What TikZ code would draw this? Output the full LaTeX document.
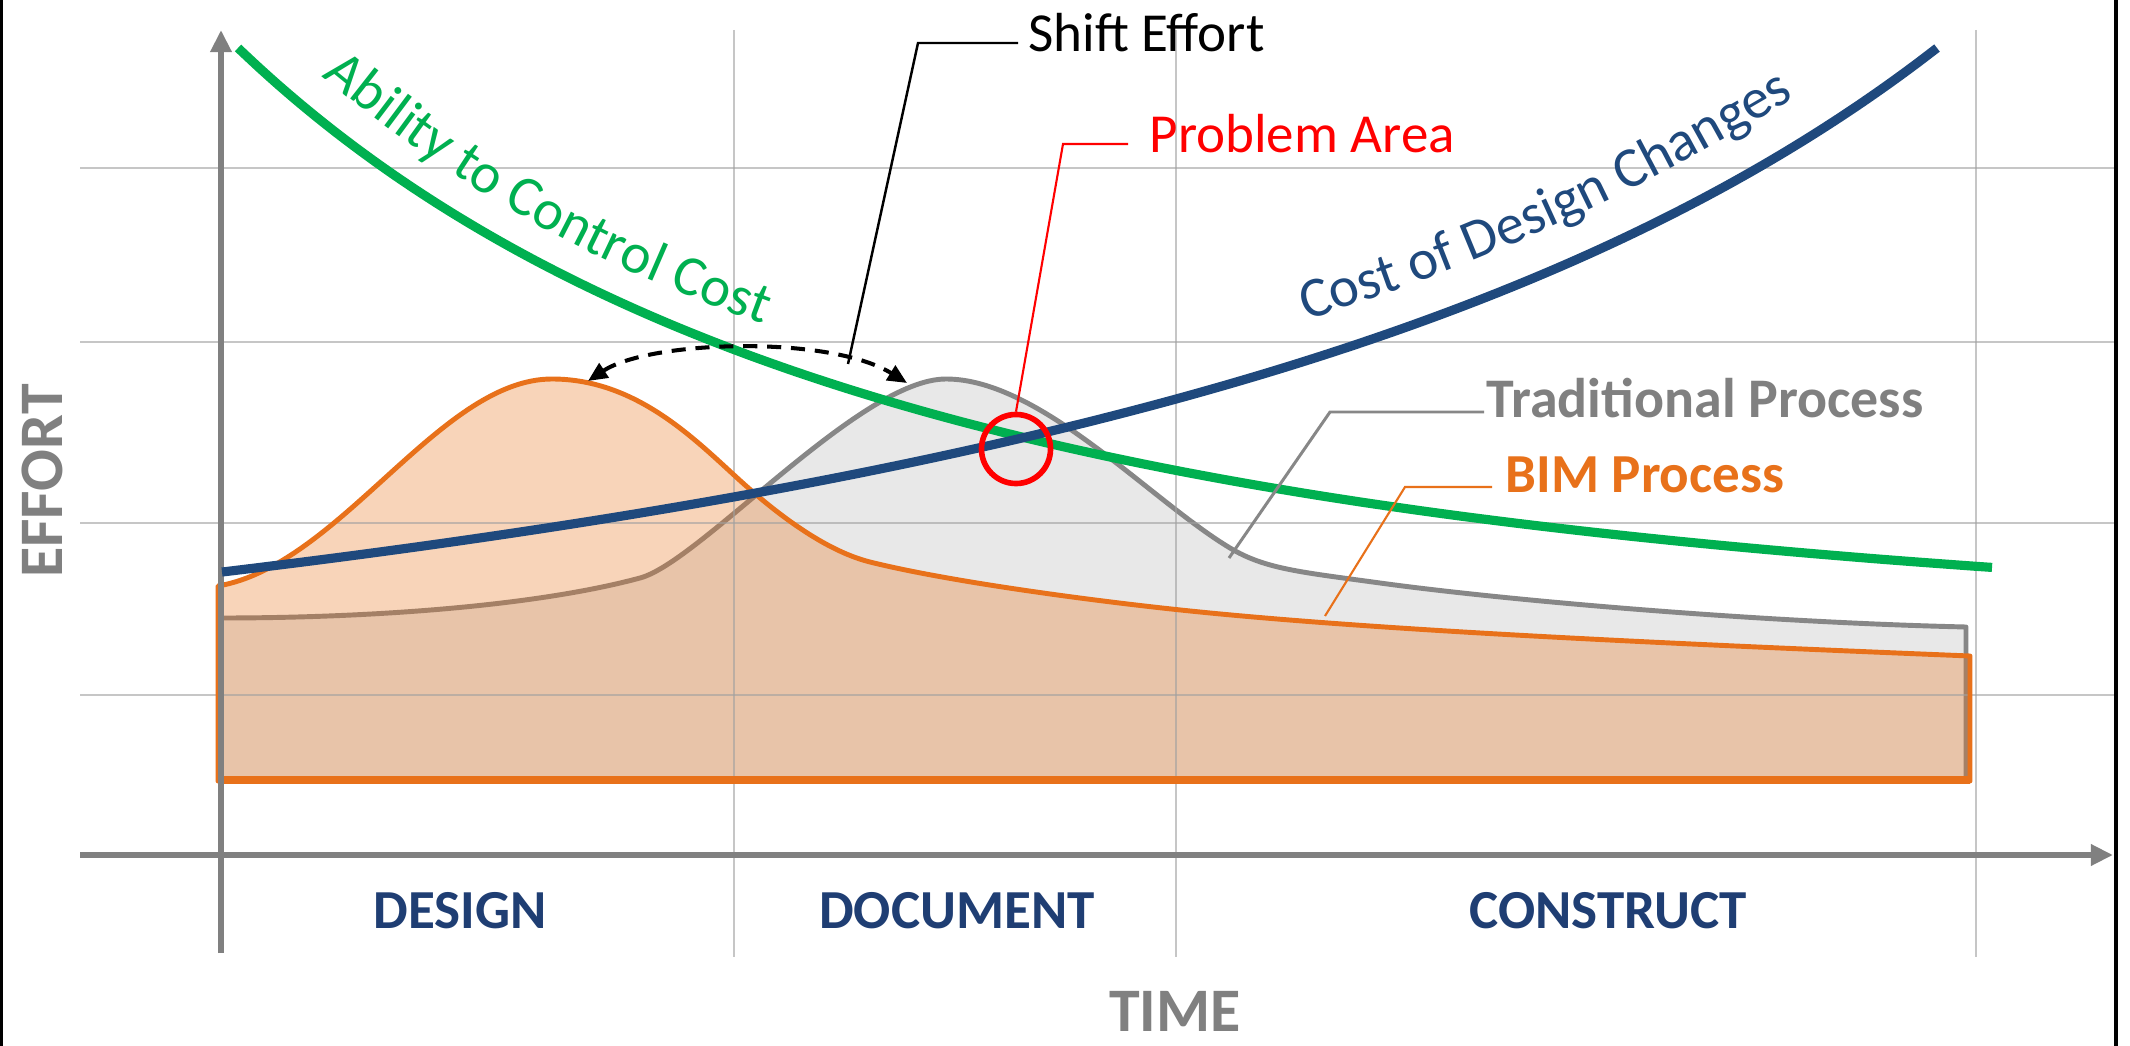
\documentclass[tikz,border=0pt]{standalone}
\usepackage{fontspec}
\setmainfont{Carlito}
\usetikzlibrary{arrows.meta,decorations.text}
\definecolor{cgreen}{RGB}{0,176,80}
\definecolor{cblue}{RGB}{31,73,125}
\definecolor{cnavy}{RGB}{31,62,115}
\definecolor{corange}{RGB}{232,113,26}
\definecolor{cgray}{RGB}{128,128,128}
\definecolor{ctrad}{RGB}{135,135,135}
\definecolor{ctradfill}{RGB}{232,232,232}
\definecolor{cgrid}{RGB}{160,160,160}
\definecolor{cred}{RGB}{255,0,0}
\newcommand\lblfont{\fontsize{15.65pt}{18pt}\selectfont}
\newcommand\pathfont{\fontsize{16.2pt}{19pt}\selectfont}
\newcommand\bigfont{\fontsize{17.6pt}{20pt}\selectfont\bfseries}
\begin{document}
\begin{tikzpicture}[x=0.01cm,y=-0.01cm,
  gridline/.style={draw=cgrid,line width=0.65pt,opacity=0.6},
  axisline/.style={draw=cgray,line width=1.7pt,-{Triangle[length=6.3pt,width=5.8pt]}},
  curve/.style={line width=2.6pt},
  lbl/.style={inner sep=0pt,font=\lblfont},
  phase/.style={inner sep=0pt,anchor=base,font=\lblfont\bfseries,text=cnavy},
  leader/.style={line width=0.7pt},
  border/.style={draw=black,line width=0.9pt}]
\useasboundingbox (0,0) rectangle (2130,1046);
\fill[white] (0,0) rectangle (2130,1046);
% Traditional process area
\path[fill=ctradfill,draw=ctrad,line width=1.4pt,line join=round]
  (221,781) -- (221,618)
  .. controls (380,618) and (540,605) .. (640,578)
  .. controls (700,562) and (860,379) .. (946,379)
  .. controls (1040,379) and (1150,500) .. (1230,548)
  .. controls (1265,569) and (1300,572) .. (1380,583)
  .. controls (1500,599.5) and (1750,622) .. (1966,627)
  -- (1966,781) -- cycle;
% BIM area fill
\path[fill=corange,fill opacity=0.3]
  (218,781) -- (218,586)
  .. controls (340,565) and (440,379) .. (552,379)
  .. controls (640,379) and (700,445) .. (745,485)
  .. controls (785.5,521) and (830,552) .. (870,562)
  .. controls (950,582) and (1100,602) .. (1200,612)
  .. controls (1400,632) and (1700,645) .. (1970,656)
  -- (1970,781) -- cycle;
% grid
\foreach \gy in {168,342,523,695} \draw[gridline] (80,\gy) -- (2115,\gy);
\foreach \gx in {734,1176,1976} \draw[gridline] (\gx,30) -- (\gx,957);
% BIM outline
\path[draw=corange,line width=1.4pt,line join=round]
  (218,781) -- (218,586)
  .. controls (340,565) and (440,379) .. (552,379)
  .. controls (640,379) and (700,445) .. (745,485)
  .. controls (785.5,521) and (830,552) .. (870,562)
  .. controls (950,582) and (1100,602) .. (1200,612)
  .. controls (1400,632) and (1700,645) .. (1970,656)
  -- (1970,781) -- cycle;
\draw[corange,line width=2pt] (218,780) -- (1970,780);
% axes
\coordinate (ybot) at (221,953);
\coordinate (ytop) at (221,30);
\coordinate (xleft) at (80,855);
\coordinate (xright) at (2113,855);
\draw[axisline] (ybot) -- (ytop);
\draw[axisline] (xleft) -- (xright);
% curves
\draw[curve,cgreen] plot[domain=238:1992,samples=90,smooth]
  (\x,{0.5*(596.8-548.8*exp(-0.001589*(\x-238)))+0.5*(780.6-5116.83/((\x+460.4)/100))});
\draw[curve,cblue] plot[domain=222:1937,samples=90,smooth]
  (\x,{911.5-9593.31/((3048-\x)/100)});
% curve labels along paths
\path[decorate,decoration={text along path,text color=cgreen,text align=left,
  text={|\pathfont|Ability to Control Cost}}]
  (322,76) .. controls (522,242) and (674,294) .. (874,364);
\path[decorate,decoration={text along path,text color=cblue,text align=left,
  text={|\pathfont|Cost of Design Changes}}]
  (1306,320) .. controls (1506,258) and (1670,178) .. (1870,52);
% shift effort arrow
\coordinate (bimpeak) at (588,381);
\coordinate (tradpeak) at (907,383);
\draw[line width=1.15pt,dash pattern=on 4pt off 2.8pt,{Triangle[length=5.5pt,width=4.8pt]}-{Triangle[length=5.5pt,width=4.8pt]}]
  (bimpeak) .. controls (650,340) and (830,335) .. (tradpeak);
% problem circle
\node[circle,draw=cred,line width=1.6pt,minimum size=0.69cm,inner sep=0pt] (prob) at (1016,449) {};
% labels
\node[lbl,anchor=base west] (shift) at (1028,52) {Shift Effort};
\node[lbl,anchor=base west,text=cred] (problem) at (1149,153) {Problem Area};
\node[lbl,anchor=base west,text=cgray,font=\fontsize{15.9pt}{18pt}\selectfont\bfseries] (trad) at (1486,418) {Traditional Process};
\node[lbl,anchor=base west,text=corange,font=\lblfont\bfseries] (bim) at (1505,493) {BIM Process};
\node[phase] (design) at (460,928) {DESIGN};
\node[phase] (document) at (957,928) {DOCUMENT};
\node[phase] (construct) at (1608,928) {CONSTRUCT};
\node[inner sep=0pt,anchor=base,font=\bigfont,text=cgray] (time) at (1175,1031) {TIME};
\node[inner sep=0pt,anchor=base,rotate=90,font=\bigfont,text=cgray] (effort) at (62,481) {EFFORT};
% leaders
\coordinate (s1) at (1018,43);
\coordinate (s2) at (918,43);
\coordinate (s3) at (848,364);
\draw[leader,black] (s1) -- (s2) -- (s3);
\coordinate (p1) at (1128,144);
\coordinate (p2) at (1063,144);
\draw[leader,cred,line width=0.6pt] (p1) -- (p2) -- (prob.north);
\coordinate (t1) at (1484,412);
\coordinate (t2) at (1330,412);
\coordinate (t3) at (1229,558);
\draw[leader,ctrad,line width=0.85pt] (t1) -- (t2) -- (t3);
\coordinate (b1) at (1492,487);
\coordinate (b2) at (1405,487);
\coordinate (b3) at (1325,616);
\draw[leader,corange,line width=0.6pt] (b1) -- (b2) -- (b3);
% frame lines
\draw[border] (1.5,0) -- (1.5,1046);
\draw[border] (2116,0) -- (2116,1046);
\end{tikzpicture}
\end{document}
